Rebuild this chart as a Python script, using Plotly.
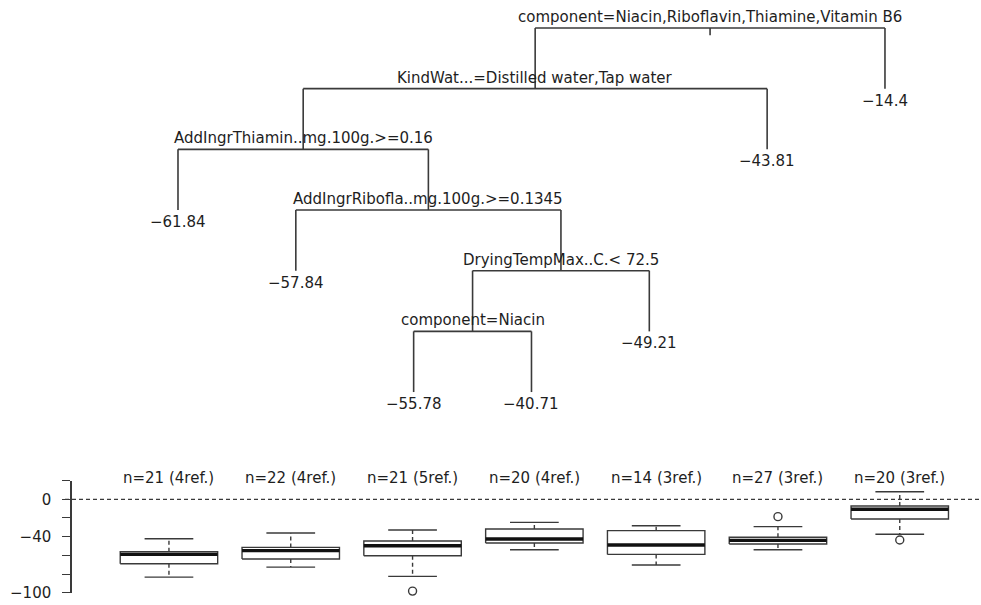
import plotly.graph_objects as go

# ---------------- tree data (rpart node numbering: children of n are 2n, 2n+1)
node_ids = [1, 2, 3, 4, 5, 8, 9, 18, 19, 38, 39, 76, 77]
node_texts = [
    "component=Niacin,Riboflavin,Thiamine,Vitamin B6",
    "KindWat...=Distilled water,Tap water",
    None,
    "AddIngrThiamin..mg.100g.>=0.16",
    None,
    None,
    "AddIngrRibofla..mg.100g.>=0.1345",
    None,
    "DryingTempMax..C.< 72.5",
    "component=Niacin",
    None,
    None,
    None,
]
leaf_values = [None, None, -14.4, None, -43.81, -61.84, None, -57.84, None, None, -49.21, -55.78, -40.71]

# ---------------- box data (one per leaf, left to right)
n_obs = [21, 22, 21, 20, 14, 27, 20]
n_refs = [4, 4, 5, 4, 3, 3, 3]
box_q1 = [-69.0, -64.0, -60.4, -46.8, -59.0, -47.9, -21.1]
box_med = [-59.0, -55.0, -49.7, -42.5, -49.0, -44.0, -10.7]
box_q3 = [-56.1, -51.5, -44.7, -31.8, -33.6, -40.7, -7.2]
box_lo = [-83.3, -72.6, -82.5, -54.0, -70.4, -54.0, -37.5]
box_hi = [-42.2, -36.1, -32.9, -24.7, -28.3, -29.3, 8.1]
outlier_box = [3, 6, 7]
outlier_val = [-98.3, -18.6, -43.6]

y_ticks = [20, 0, -20, -40, -60, -80, -100]
y_ticktext = ["", "0", "", "\u221240", "", "", "\u2212100"]

FONT = "DejaVu Sans"
TXT = "#1e1e1e"
LINE = "#3a3a3a"

# ---------------- tree layout
ids = set(node_ids)
text_of = dict(zip(node_ids, node_texts))
val_of = dict(zip(node_ids, leaf_values))
xpos = {}
counter = [0]


def visit(n):
    if (2 * n) in ids:
        visit(2 * n)
        visit(2 * n + 1)
        xpos[n] = (xpos[2 * n] + xpos[2 * n + 1]) / 2
    else:
        counter[0] += 1
        xpos[n] = counter[0]


visit(1)


def depth(n):
    return n.bit_length() - 1


tx, ty = [], []
for n in node_ids:
    if (2 * n) in ids:
        l, r = 2 * n, 2 * n + 1
        tx += [xpos[l], xpos[r], None]
        ty += [depth(n), depth(n), None]
        for c in (l, r):
            tx += [xpos[c], xpos[c], None]
            ty += [depth(n), depth(c), None]
# small root stem
tx += [xpos[1], xpos[1], None]
ty += [0, 0.12, None]

fig = go.Figure()
fig.add_trace(go.Scatter(x=tx, y=ty, mode="lines", line=dict(color=LINE, width=1.6),
                         hoverinfo="skip", showlegend=False, xaxis="x", yaxis="y"))

annotations = []
for n in node_ids:
    if text_of[n] is not None:
        annotations.append(dict(x=xpos[n], y=depth(n), xref="x", yref="y", text=text_of[n],
                                showarrow=False, yanchor="middle", yshift=11,
                                font=dict(family=FONT, size=15, color=TXT)))
    if val_of[n] is not None:
        s = ("%g" % val_of[n]).replace("-", "\u2212")
        annotations.append(dict(x=xpos[n], y=depth(n), xref="x", yref="y", text=s,
                                showarrow=False, yanchor="middle", yshift=-12,
                                font=dict(family=FONT, size=15, color=TXT)))

# ---------------- box plots
hw = 0.4
cw = 0.2
bx, by, mx, my, wx, wy, cx, cy = [], [], [], [], [], [], [], []
for i in range(len(n_obs)):
    c = i + 1
    bx += [c - hw, c + hw, c + hw, c - hw, c - hw, None]
    by += [box_q1[i], box_q1[i], box_q3[i], box_q3[i], box_q1[i], None]
    mx += [c - hw, c + hw, None]
    my += [box_med[i], box_med[i], None]
    wx += [c, c, None, c, c, None]
    wy += [box_q3[i], box_hi[i], None, box_q1[i], box_lo[i], None]
    cx += [c - cw, c + cw, None, c - cw, c + cw, None]
    cy += [box_hi[i], box_hi[i], None, box_lo[i], box_lo[i], None]
    annotations.append(dict(x=c, y=20, xref="x2", yref="y2",
                            text="n=%d (%dref.)" % (n_obs[i], n_refs[i]),
                            showarrow=False, yanchor="middle", yshift=3,
                            font=dict(family=FONT, size=15, color=TXT)))

common = dict(mode="lines", hoverinfo="skip", showlegend=False, xaxis="x2", yaxis="y2",
              cliponaxis=False)
fig.add_trace(go.Scatter(x=wx, y=wy, line=dict(color=LINE, width=1.4, dash="4px,3px"), **common))
fig.add_trace(go.Scatter(x=cx, y=cy, line=dict(color=LINE, width=1.4), **common))
fig.add_trace(go.Scatter(x=bx, y=by, line=dict(color=LINE, width=1.4), **common))
fig.add_trace(go.Scatter(x=mx, y=my, line=dict(color="#111111", width=3.4), **common))
fig.add_trace(go.Scatter(x=outlier_box, y=outlier_val, mode="markers",
                         marker=dict(symbol="circle-open", size=8, color=LINE, line=dict(width=1.4)),
                         hoverinfo="skip", showlegend=False, xaxis="x2", yaxis="y2", cliponaxis=False))

W, H = 981, 605
x2_left = 72 / W
fig.update_layout(
    width=W, height=H,
    margin=dict(l=0, r=0, t=0, b=0, autoexpand=False),
    paper_bgcolor="white", plot_bgcolor="rgba(0,0,0,0)",
    xaxis=dict(domain=[0, 1], range=[-0.5106, 7.815], visible=False, automargin=False),
    yaxis=dict(domain=[0, 1], range=[9.51, -0.4615], visible=False, automargin=False),
    xaxis2=dict(domain=[x2_left, 1], range=[0.204, 7.667], visible=False, anchor="y2",
                automargin=False),
    yaxis2=dict(domain=[(H - 592.7) / H, (H - 480.6) / H], range=[-100, 20], anchor="x2",
                automargin=False,
                tickvals=y_ticks, ticktext=y_ticktext, ticks="outside", ticklen=8,
                ticklabelstandoff=8, tickwidth=1.4,
                tickcolor=LINE, showline=True, linecolor=LINE, linewidth=1.5,
                showgrid=False, zeroline=False,
                tickfont=dict(family=FONT, size=15, color=TXT)),
    annotations=annotations,
    shapes=[dict(type="line", xref="paper", yref="y2", x0=65 / W, x1=1, y0=0, y1=0,
                 line=dict(color=LINE, width=1.2, dash="4px,3px"))],
)

fig.write_html(
    "out.html",
    config={"displayModeBar": False},
    post_script=(
        "var s='margin:0;padding:0;overflow:hidden;width:981px;height:605px;';"
        "document.documentElement.style.cssText=s;document.body.style.cssText=s;"
    ),
)
